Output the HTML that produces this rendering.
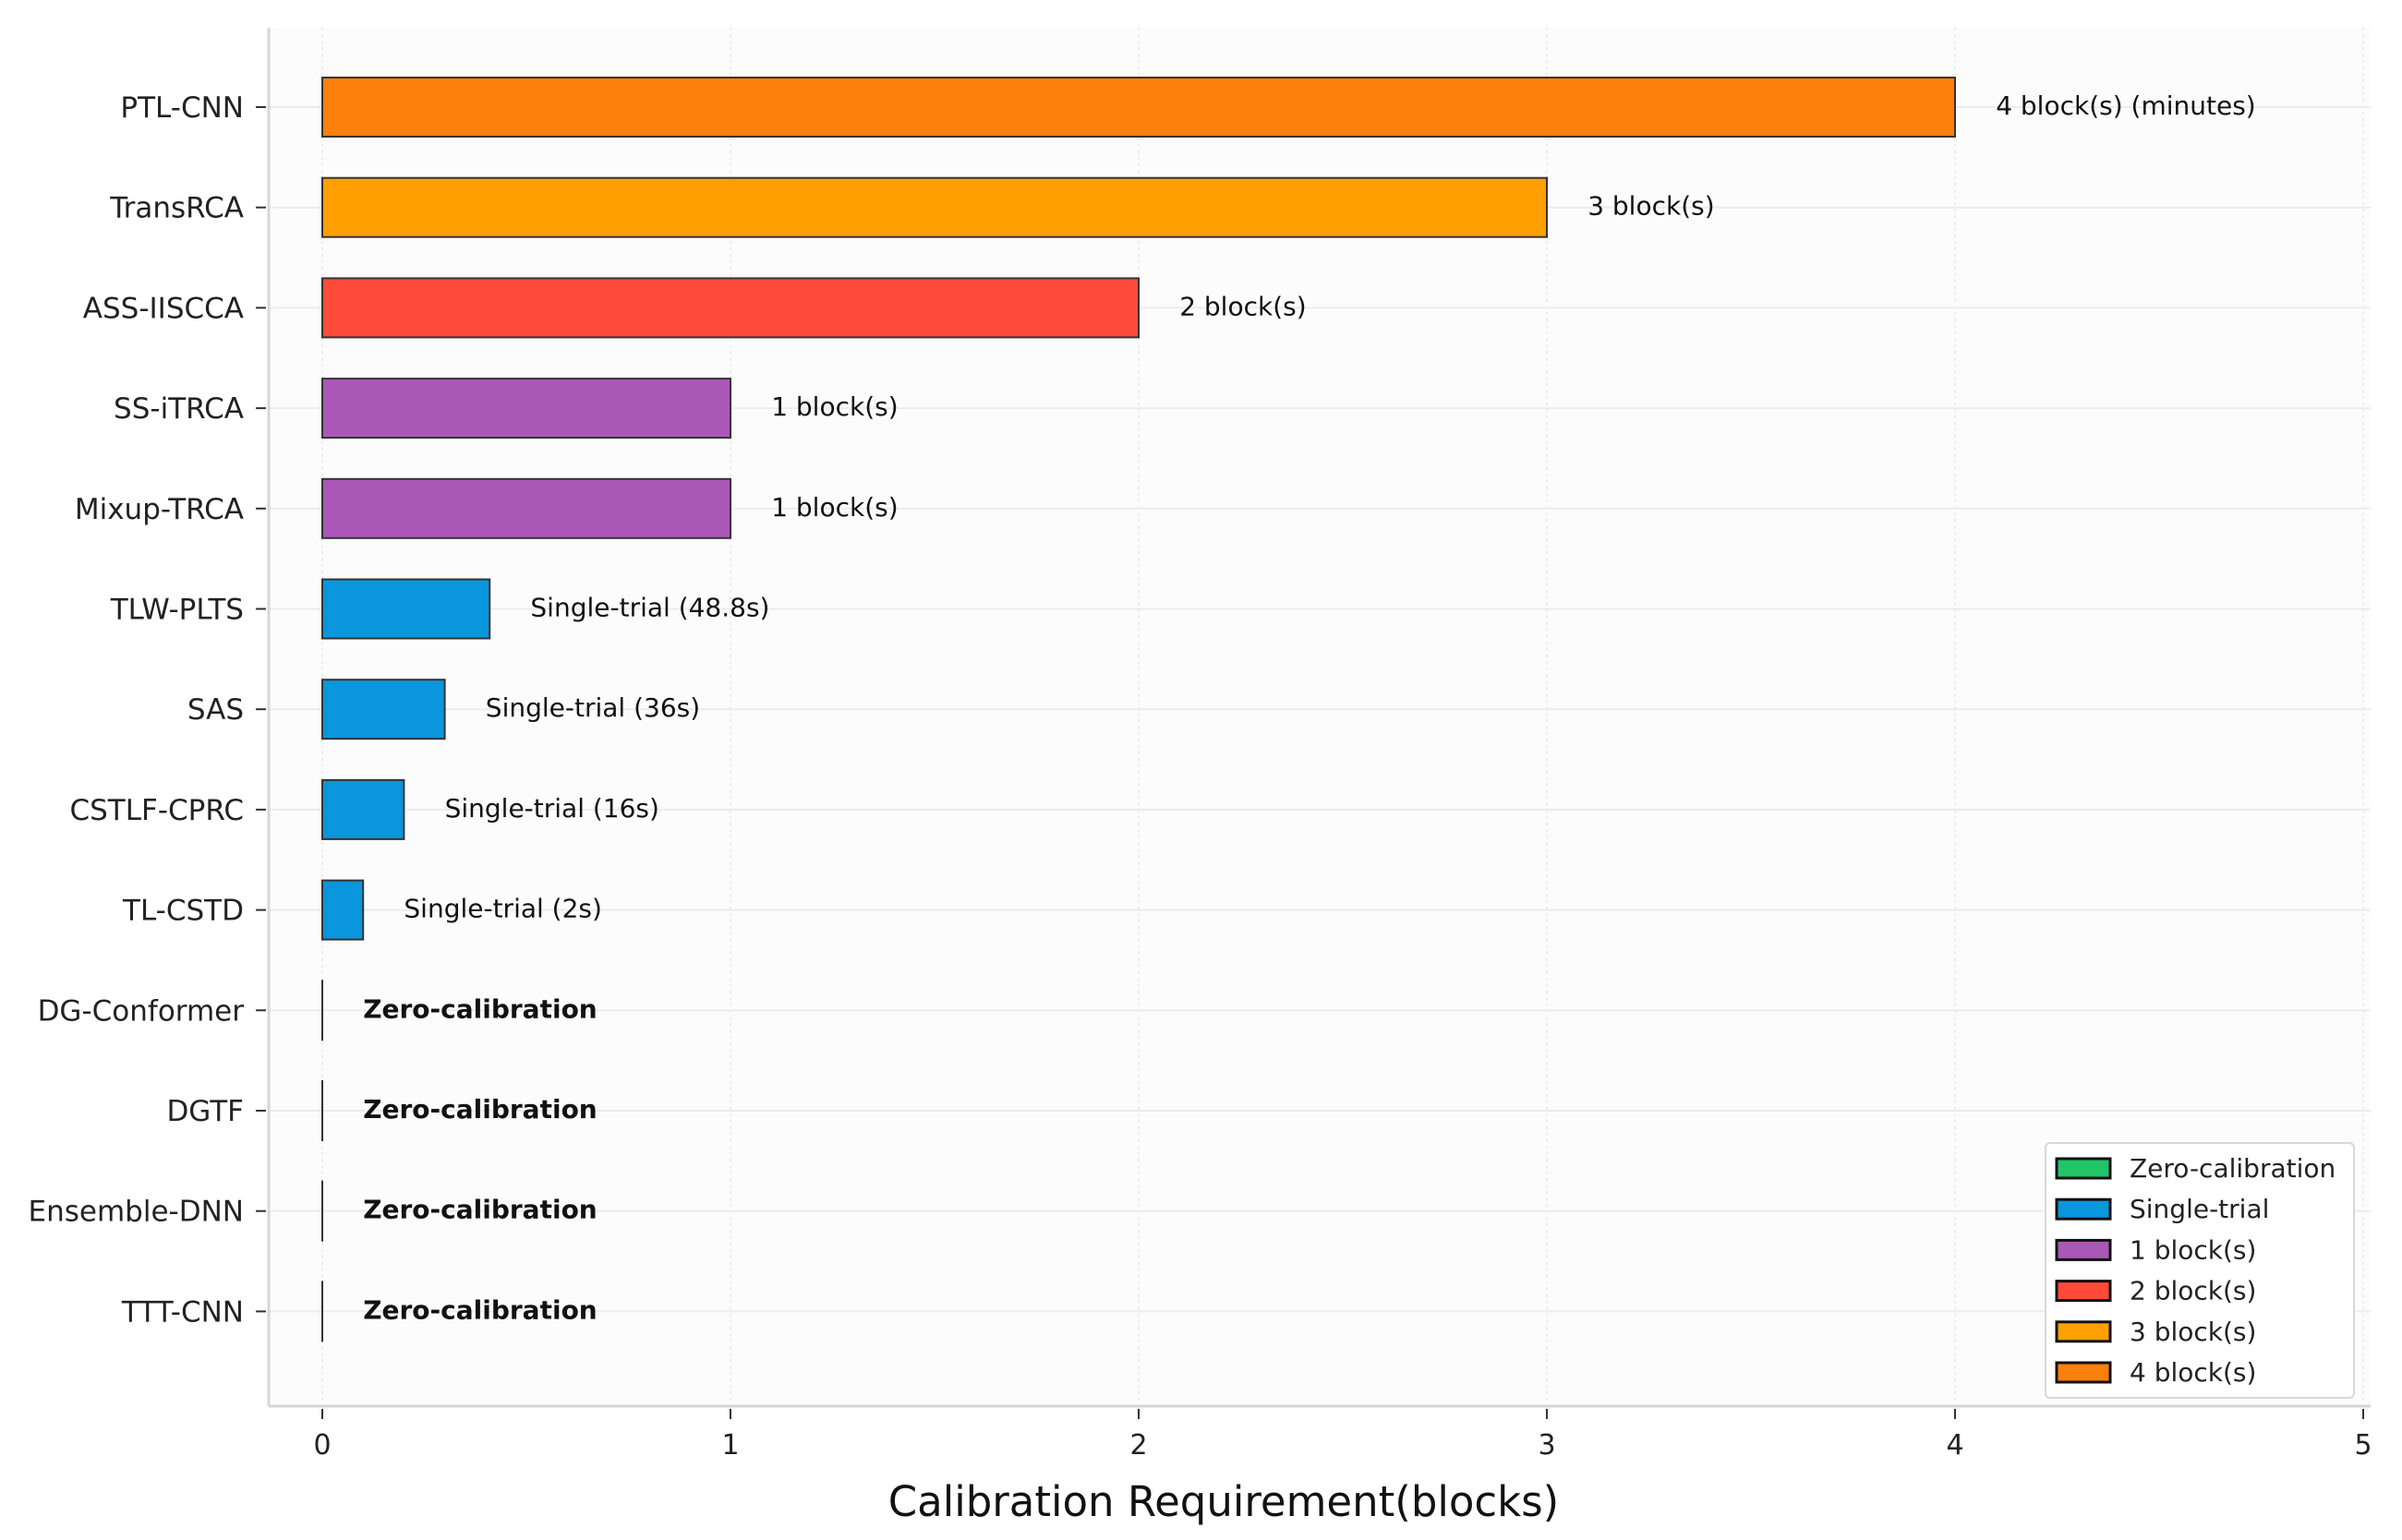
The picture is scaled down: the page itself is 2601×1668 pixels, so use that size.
<!DOCTYPE html>
<html><head><meta charset="utf-8">
<style>
html,body{margin:0;padding:0;background:#fff;}
svg{display:block;font-family:"DejaVu Sans","Liberation Sans",sans-serif;}
</style></head>
<body>
<svg id="chart" width="2601" height="1668" viewBox="0 0 2601 1668" xmlns="http://www.w3.org/2000/svg">
<rect x="0" y="0" width="2601" height="1668" fill="#ffffff"/>
<rect x="291" y="30" width="2276" height="1493" fill="#fcfcfc"/>
<g id="grid"></g><g id="bars"></g><g id="labels"></g><g id="axes"></g><g id="legend"></g>
</svg>
<script>
const categories = ["PTL-CNN","TransRCA","ASS-IISCCA","SS-iTRCA","Mixup-TRCA","TLW-PLTS","SAS","CSTLF-CPRC","TL-CSTD","DG-Conformer","DGTF","Ensemble-DNN","TTT-CNN"];
const values = [4,3,2,1,1,0.41,0.3,0.2,0.1,0,0,0,0];
const groups = ["4","3","2","1","1","s","s","s","s","z","z","z","z"];
const valueLabels = ["4 block(s) (minutes)","3 block(s)","2 block(s)","1 block(s)","1 block(s)","Single-trial (48.8s)","Single-trial (36s)","Single-trial (16s)","Single-trial (2s)","Zero-calibration","Zero-calibration","Zero-calibration","Zero-calibration"];
const xTicks = [0,1,2,3,4,5];
const legendKeys = ["z","s","1","2","3","4"];
const legendLabels = ["Zero-calibration","Single-trial","1 block(s)","2 block(s)","3 block(s)","4 block(s)"];
const colors = {z:"#22c468",s:"#0a96dc",1:"#ab57b8",2:"#ff4b3a",3:"#ffa000",4:"#fd7f0c"};

const NS="http://www.w3.org/2000/svg";
const X0=349, UNIT=442, Y0=116, STEP=108.7, BH=64;
const xs=v=>X0+v*UNIT;
const ys=i=>Y0+i*STEP;
function mk(tag,attrs,parent,text){const e=document.createElementNS(NS,tag);for(const k in attrs)e.setAttribute(k,attrs[k]);if(text!==undefined)e.textContent=text;document.getElementById(parent).appendChild(e);return e;}

categories.forEach((c,i)=>{
  const g=mk("line",{x1:291,x2:2567,y1:ys(i),y2:ys(i),stroke:"#ececec","stroke-width":2},"grid");
  
  
});
xTicks.forEach(t=>{
  const g=mk("line",{x1:xs(t),x2:xs(t),y1:30,y2:1523,stroke:"#ededed","stroke-width":2,"stroke-dasharray":"3,4"},"grid");
  
  
});

categories.forEach((c,i)=>{
  const w=values[i]*UNIT;
  const b=mk("rect",{x:X0,y:ys(i)-BH/2,width:Math.max(w,0.01),height:BH,fill:colors[groups[i]],stroke:"#333","stroke-width":2},"bars");
  
  
  const bold=groups[i]==="z";
  const t=mk("text",{x:xs(values[i]+0.1),y:ys(i)+8,"font-size":28,fill:"#111","font-weight":bold?"bold":"normal"},"labels",valueLabels[i]);
  
  
  const yl=mk("text",{x:264,y:ys(i)+11,"font-size":31,fill:"#222","text-anchor":"end"},"axes",c);
  
  
  const tk=mk("line",{x1:277,x2:288,y1:ys(i),y2:ys(i),stroke:"#333","stroke-width":2},"axes");
  
  
});

const sl=mk("line",{x1:291,x2:291,y1:30,y2:1523,stroke:"#d6d6d6","stroke-width":3},"axes");


const sb=mk("line",{x1:291,x2:2567,y1:1523,y2:1523,stroke:"#d6d6d6","stroke-width":3},"axes");


xTicks.forEach(t=>{
  const tk=mk("line",{x1:xs(t),x2:xs(t),y1:1526,y2:1537,stroke:"#333","stroke-width":2},"axes");
  
  
  const tl=mk("text",{x:xs(t),y:1575,"font-size":30,fill:"#222","text-anchor":"middle"},"axes",String(t));
  
  
});
const xt=mk("text",{x:1325,y:1642,"font-size":45,fill:"#111","text-anchor":"middle"},"axes","Calibration Requirement(blocks)");



const lb=mk("rect",{x:2215,y:1238,width:334,height:276,rx:5,fill:"#ffffff",stroke:"#d8d8d8","stroke-width":2},"legend");


legendKeys.forEach((k,i)=>{
  const y=1265+i*44.2;
  const p=mk("rect",{x:2227,y:y-10,width:58,height:21,fill:colors[k],stroke:"#111","stroke-width":3},"legend");
  
  
  const t=mk("text",{x:2306,y:y+10,"font-size":28,fill:"#222"},"legend",legendLabels[i]);
  
  
});
</script>
</body></html>
